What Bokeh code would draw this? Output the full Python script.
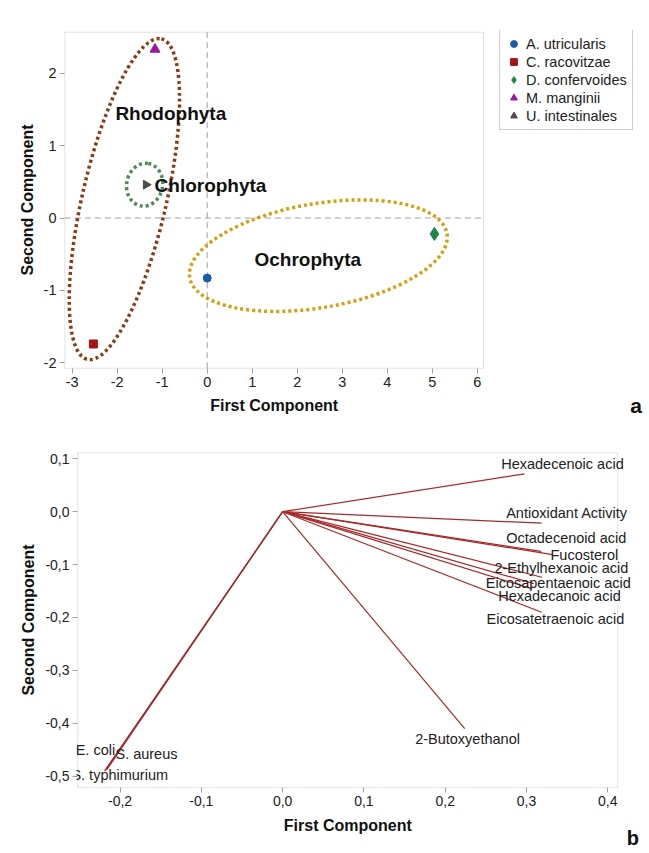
from math import pi
from bokeh.plotting import figure
from bokeh.models import (Range1d, FixedTicker, Legend, LegendItem, Label,
                          LabelSet, ColumnDataSource, CustomJSTickFormatter, BoxAnnotation)
from bokeh.core.properties import value
from bokeh.embed import file_html
from bokeh.resources import INLINE

FONT = "Liberation Sans"

# ---------------- panel a: score plot ----------------
species = ["A. utricularis", "C. racovitzae", "D. confervoides", "M. manginii", "U. intestinales"]
score_pc1 = [0.0, -2.53, 5.05, -1.16, -1.36]
score_pc2 = [-0.83, -1.74, -0.22, 2.33, 0.46]

groups = ["Rhodophyta", "Chlorophyta", "Ochrophyta"]
group_cx = [-1.84, -1.39, 2.47]
group_cy = [0.26, 0.46, -0.52]
group_label_x = [-2.04, -1.17, 1.05]
group_label_y = [1.44, 0.45, -0.57]

a_xticks = [-3, -2, -1, 0, 1, 2, 3, 4, 5, 6]
a_yticks = [-2, -1, 0, 1, 2]

# ---------------- panel b: loading plot ----------------
variables = ["Hexadecenoic acid", "Antioxidant Activity", "Octadecenoid acid", "Fucosterol",
             "2-Ethylhexanoic acid", "Eicosapentaenoic acid", "Hexadecanoic acid",
             "Eicosatetraenoic acid", "2-Butoxyethanol", "E. coli", "S. aureus", "S. typhimurium"]
load_pc1 = [0.2975, 0.3185, 0.318, 0.332, 0.319, 0.309, 0.307, 0.3185, 0.224, -0.216, -0.218, -0.219]
load_pc2 = [0.0716, -0.0217, -0.075, -0.081, -0.124, -0.136, -0.146, -0.190, -0.410, -0.487, -0.489, -0.490]

b_xticks = [-0.2, -0.1, 0.0, 0.1, 0.2, 0.3, 0.4]
b_yticks = [-0.5, -0.4, -0.3, -0.2, -0.1, 0.0, 0.1]

# ---------------- styles ----------------
species_colors = ["#1B5BA6", "#A31515", "#1E8449", "#99199E", "#4D4D4D"]
species_markers = ["circle", "square", "diamond", "triangle", "triangle"]
species_angles = [0, 0, 0, 0, -pi / 2]
species_sizes = [8, 8, 13, 10, 9]

group_colors = ["#8B3A12", "#4F8A55", "#D4A012"]
ellipse_major_px = [329, 43, 261]
ellipse_minor_px = [84, 36, 104]
ellipse_angle_deg = [77, 80, 9.7]

# label anchor positions (left edge, vertical middle) for loading labels
label_x = [0.2689, 0.2750, 0.2750, 0.3295, 0.2606, 0.2499, 0.2652, 0.2508, 0.1630, -0.2546, -0.2057, -0.2599]
label_y = [0.0905, -0.0021, -0.0488, -0.0828, -0.1068, -0.1344, -0.1603, -0.2038, -0.4293, -0.4501, -0.4590, -0.4974]

# visible plot boxes (frames are extended to the right so legend / labels are not clipped)
a_box = dict(left=-3.164, right=6.14, top=2.566, bottom=-2.075)
b_box = dict(left=-0.252, right=0.4123, top=0.1113, bottom=-0.522)
a_title_y = -2.59      # vertical position of the x-axis title / panel letter (panel a)
b_title_y = -0.5932    # vertical position of the x-axis title (panel b)
b_letter_y = -0.6164

GRAY = "#A0A0A0"
PANEL_STYLE = {"outline": "1px solid #DCDCDC", "outline-offset": "-2px"}


def style_axes(p, tick_size, ystand):
    for ax in (p.xaxis[0], p.yaxis[0]):
        ax.axis_line_color = None
        ax.major_tick_line_color = GRAY
        ax.major_tick_out = 4
        ax.major_tick_in = 1
        ax.minor_tick_line_color = None
        ax.major_label_text_font = FONT
        ax.major_label_text_font_size = tick_size
        ax.major_label_text_color = "#222222"
        ax.major_label_standoff = 3
        ax.axis_label_text_font = FONT
        ax.axis_label_text_font_style = "bold"
        ax.axis_label_text_font_size = "16px"
        ax.axis_label_text_color = "#111111"
    p.yaxis.axis_label_standoff = ystand
    p.xgrid.visible = False
    p.ygrid.visible = False
    p.outline_line_color = None


def add_box(p, box):
    p.add_layout(BoxAnnotation(left=box["left"], right=box["right"], top=box["top"],
                               bottom=box["bottom"], fill_alpha=0, fill_color=None,
                               line_color=GRAY, line_width=1, level="underlay"))


def add_xtitle(p, box, y):
    p.add_layout(Label(x=(box["left"] + box["right"]) / 2, y=y, text="First Component",
                       text_font=FONT, text_font_style="bold", text_font_size="16px",
                       text_align="center", text_baseline="middle", text_color="#111111"), "below")


# ---------------- figure a ----------------
p1 = figure(width=649, height=425, x_range=Range1d(-3.1933, 9.740), y_range=Range1d(-2.0925, 2.5898),
            output_backend="svg", toolbar_location=None,
            min_border_left=63, min_border_right=4, min_border_top=30, min_border_bottom=56,
            y_axis_label="Second Component", styles=PANEL_STYLE)
p1.xaxis.ticker = FixedTicker(ticks=a_xticks)
p1.yaxis.ticker = FixedTicker(ticks=a_yticks)
int_fmt = CustomJSTickFormatter(code="return tick.toFixed(0);")
p1.xaxis.formatter = int_fmt
p1.yaxis.formatter = int_fmt
style_axes(p1, "14.5px", 5)
add_box(p1, a_box)

# dashed reference lines through the origin, limited to the plot box
p1.segment(x0=[0, a_box["left"]], y0=[a_box["bottom"], 0], x1=[0, a_box["right"]], y1=[a_box["top"], 0],
           line_color=GRAY, line_dash="6 4", line_width=1)

ell_src = ColumnDataSource(dict(x=group_cx, y=group_cy, w=ellipse_major_px, h=ellipse_minor_px,
                                a=ellipse_angle_deg, c=group_colors))
p1.ellipse(x="x", y="y", width="w", height="h", angle="a", angle_units="deg",
           width_units="screen", height_units="screen", source=ell_src,
           fill_color=None, line_color="c", line_width=3.5, line_dash="3 3")

p1.text(x=group_label_x, y=group_label_y, text=groups, text_font=value(FONT),
        text_font_style="bold", text_font_size="19px", text_color="#111111",
        text_align="left", text_baseline="middle")

items = []
for i, s in enumerate(species):
    r = p1.scatter(x=[score_pc1[i]], y=[score_pc2[i]], marker=species_markers[i],
                   size=species_sizes[i], angle=species_angles[i],
                   fill_color=species_colors[i], line_color=species_colors[i])
    items.append(LegendItem(label=s, renderers=[r]))

legend = Legend(items=items, location=(436, 239), border_line_color=GRAY, border_line_width=1,
                label_text_font=FONT, label_text_font_size="14.5px", label_text_color="#222222",
                glyph_width=17, glyph_height=17, label_height=16, spacing=1, padding=5,
                label_standoff=4, margin=0)
p1.add_layout(legend)

add_xtitle(p1, a_box, a_title_y)
p1.add_layout(Label(x=9.53, y=a_title_y, text="a", text_font=FONT, text_font_style="bold",
                    text_font_size="21px", text_align="center", text_baseline="middle",
                    text_color="#111111"), "left")

# ---------------- figure b ----------------
p2 = figure(width=649, height=428, x_range=Range1d(-0.2536, 0.4464), y_range=Range1d(-0.5233, 0.1138),
            output_backend="svg", toolbar_location=None,
            min_border_left=76, min_border_right=4, min_border_top=26, min_border_bottom=65,
            y_axis_label="Second Component", styles=PANEL_STYLE)
fmt = CustomJSTickFormatter(code="return tick.toFixed(1).replace('.', ',');")
p2.xaxis.ticker = FixedTicker(ticks=b_xticks)
p2.yaxis.ticker = FixedTicker(ticks=b_yticks)
p2.xaxis.formatter = fmt
p2.yaxis.formatter = fmt
style_axes(p2, "14px", 5)
add_box(p2, b_box)

origin = [0.0] * len(variables)
p2.segment(x0=origin, y0=origin, x1=load_pc1, y1=load_pc2, line_color="#A52A2A", line_width=1.2)

lab_src = ColumnDataSource(dict(x=label_x, y=label_y, t=variables))
p2.add_layout(LabelSet(x="x", y="y", text="t", source=lab_src, text_font=value(FONT),
                       text_font_size="14.5px", text_color="#222222",
                       text_align="left", text_baseline="middle"))

add_xtitle(p2, b_box, b_title_y)
p2.add_layout(Label(x=0.431, y=b_letter_y, text="b", text_font=FONT, text_font_style="bold",
                    text_font_size="20px", text_align="center", text_baseline="middle",
                    text_color="#111111"), "left")

open("out.html", "w").write(file_html([p1, p2], INLINE))
